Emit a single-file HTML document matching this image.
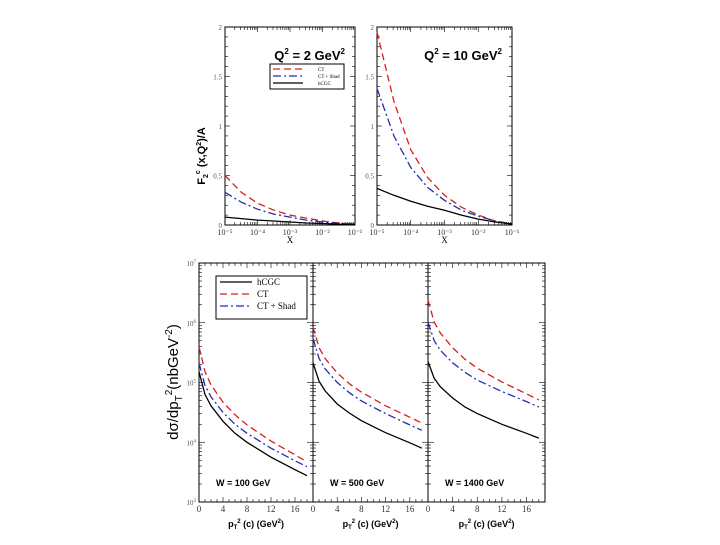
<!DOCTYPE html>
<html><head><meta charset="utf-8"><style>
body{margin:0;background:#fff;width:720px;height:540px;overflow:hidden}
svg text{font-family:"Liberation Serif",serif}
.b{font-family:"Liberation Sans",sans-serif;font-weight:bold}
</style></head><body>
<svg id="c" width="720" height="540" xmlns="http://www.w3.org/2000/svg"></svg>
<script>
// Top panels: x = log10(x), F2c values
const topX = [-5,-4.5,-4,-3.5,-3,-2.5,-2,-1.5,-1];
const q2a_CT = [0.5,0.33,0.22,0.15,0.1,0.07,0.04,0.02,0.01];
const q2a_Shad = [0.33,0.23,0.16,0.11,0.08,0.05,0.03,0.015,0.01];
const q2a_hCGC = [0.08,0.065,0.05,0.04,0.03,0.02,0.015,0.008,0.005];
const q10_CT = [1.95,1.25,0.76,0.48,0.3,0.18,0.1,0.04,0.01];
const q10_Shad = [1.38,0.9,0.58,0.38,0.25,0.15,0.09,0.04,0.01];
const q10_hCGC = [0.37,0.3,0.24,0.19,0.15,0.1,0.06,0.03,0.01];
const topXTicks = ["10⁻⁵","10⁻⁴","10⁻³","10⁻²","10⁻¹"];
const topYTicks = [0,0.5,1,1.5,2];
// Bottom panels: pT^2, log10 of cross section
const ptX = [0,1,2,4,6,8,12,16,18];
const w100_CT = [5.6,5.18,4.96,4.67,4.46,4.29,4.02,3.79,3.67];
const w100_Shad = [5.33,4.95,4.76,4.5,4.3,4.15,3.9,3.69,3.59];
const w100_hCGC = [5.18,4.8,4.61,4.35,4.15,4.0,3.75,3.54,3.44];
const w500_CT = [5.93,5.58,5.4,5.16,4.98,4.84,4.61,4.42,4.32];
const w500_Shad = [5.74,5.4,5.23,5.0,4.83,4.69,4.48,4.29,4.2];
const w500_hCGC = [5.33,5.02,4.86,4.64,4.49,4.36,4.16,3.99,3.9];
const w1400_CT = [6.38,6.01,5.83,5.58,5.39,5.24,5.01,4.81,4.71];
const w1400_Shad = [6.01,5.7,5.54,5.33,5.17,5.04,4.85,4.68,4.59];
const w1400_hCGC = [5.35,5.07,4.93,4.74,4.59,4.48,4.3,4.15,4.07];
const ptTicks = [0,4,8,12,16];
const logTicks = [3,4,5,6,7];

const svg=document.getElementById('c');const NS='http://www.w3.org/2000/svg';
function el(t,a,p){const e=document.createElementNS(NS,t);for(const k in a)e.setAttribute(k,a[k]);(p||svg).appendChild(e);return e;}
function txt(s,x,y,a,p){const e=el('text',Object.assign({x:x,y:y},a||{}),p);e.textContent=s;return e;}
const styles={CT:{stroke:'#d62020','stroke-dasharray':'7,4'},Shad:{stroke:'#2030b0','stroke-dasharray':'8,3,2,3'},hCGC:{stroke:'#000'}};
function line(xs,ys,sx,sy,st,name){
  const d=xs.map((v,i)=>(i?'L':'M')+sx(v).toFixed(1)+','+sy(ys[i]).toFixed(1)).join('');
  const p=el('path',Object.assign({d:d,fill:'none','stroke-width':1.3},styles[st]));
  
  
}
function topPanel(x0,x1,y0,y1,ct,sh,hc,title,id,showY){
  const sx=v=>x0+(v+5)/4*(x1-x0), sy=v=>y1-v/2*(y1-y0);
  const r=el('rect',{x:x0,y:y0,width:x1-x0,height:y1-y0,fill:'none',stroke:'#000','stroke-width':1});
  
  for(let d=-5;d<-1;d++)for(let k=1;k<10;k++){const x=sx(d+Math.log10(k));const L=k==1?5:3;
    el('line',{x1:x,x2:x,y1:y1,y2:y1-L,stroke:'#000','stroke-width':0.6});el('line',{x1:x,x2:x,y1:y0,y2:y0+L,stroke:'#000','stroke-width':0.6});}
  topXTicks.forEach((t,i)=>{const e=txt(t,sx(-5+i),y1+10,{'font-size':8,'text-anchor':'middle',fill:'#333'});});
  for(let v=0;v<=2.001;v+=0.1){const y=sy(v);const L=Math.abs(v*2-Math.round(v*2))<0.01?5:3;
    el('line',{x1:x0,x2:x0+L,y1:y,y2:y,stroke:'#000','stroke-width':0.6});el('line',{x1:x1,x2:x1-L,y1:y,y2:y,stroke:'#000','stroke-width':0.6});}
  topYTicks.forEach(v=>{const e=txt(String(v),x0-3,sy(v)+3,{'font-size':7,'text-anchor':'end',fill:'#555'});});
  const xl=txt('X',(x0+x1)/2,y1+18,{'font-size':9,'text-anchor':'middle'});
  line(topX,ct,sx,sy,'CT',id+'-ct-line');line(topX,sh,sx,sy,'Shad',id+'-shad-line');line(topX,hc,sx,sy,'hCGC',id+'-hcgc-line');
  const t=el('text',{x:x1-10,y:y0+33,'font-size':13,'text-anchor':'end',class:'b'});
  t.innerHTML=title;
}
topPanel(225,355,27,225,q2a_CT,q2a_Shad,q2a_hCGC,'Q<tspan dy="-6" font-size="8">2</tspan><tspan dy="6"> = 2 GeV</tspan><tspan dy="-6" font-size="8">2</tspan>','q2-2-panel');
topPanel(377,512,27,225,q10_CT,q10_Shad,q10_hCGC,'Q<tspan dy="-6" font-size="8">2</tspan><tspan dy="6"> = 10 GeV</tspan><tspan dy="-6" font-size="8">2</tspan>','q2-10-panel');
// top legend
const lg=el('g',{});
el('rect',{x:270,y:64,width:74,height:25,fill:'#fff',stroke:'#000','stroke-width':1},lg);
[['CT','CT',71],['Shad','CT + Shad',78],['hCGC','hCGC',85]].forEach(([k,l,y])=>{el('line',Object.assign({x1:273,x2:303,y1:y-2,y2:y-2,'stroke-width':1.2},styles[k]),lg);txt(l,318,y,{'font-size':5},lg);});
const yl1=el('text',{transform:'translate(205,156) rotate(-90)','text-anchor':'middle','font-size':11,class:'b'});
yl1.innerHTML='F<tspan dy="3" font-size="7">2</tspan><tspan dy="-8" font-size="7">c</tspan><tspan dy="5"> (x,Q</tspan><tspan dy="-4" font-size="7">2</tspan><tspan dy="4">)/A</tspan>';


// bottom panels
const by0=263,by1=502;
function botPanel(x0,x1,ct,sh,hc,label,id,first){
  const sx=v=>x0+v/19*(x1-x0), sy=v=>by1-(v-3)/4*(by1-by0);
  const r=el('rect',{x:x0,y:by0,width:x1-x0,height:by1-by0,fill:'none',stroke:'#000','stroke-width':1});
  
  for(let v=0;v<=19;v++){const x=sx(v);const L=v%4==0?5:3;el('line',{x1:x,x2:x,y1:by1,y2:by1-L,stroke:'#000','stroke-width':0.6});el('line',{x1:x,x2:x,y1:by0,y2:by0+L,stroke:'#000','stroke-width':0.6});}
  for(let d=3;d<7;d++)for(let k=1;k<10;k++){const y=sy(d+Math.log10(k));const L=k==1?6:3;
    el('line',{x1:x0,x2:x0+L,y1:y,y2:y,stroke:'#000','stroke-width':0.6});el('line',{x1:x1,x2:x1-L,y1:y,y2:y,stroke:'#000','stroke-width':0.6});}
  ptTicks.forEach(v=>{const e=txt(String(v),sx(v),by1+10,{'font-size':9,'text-anchor':'middle',fill:'#333'});});
  if(first)logTicks.forEach(v=>{const e=txt('10',x0-3,sy(v)+3,{'font-size':7,'text-anchor':'end',fill:'#555'});e.innerHTML='10<tspan dy="-3" font-size="5">'+v+'</tspan>';});
  const xt=el('text',{x:(x0+x1)/2,y:by1+25,'font-size':9,'text-anchor':'middle',class:'b'});
  xt.innerHTML='p<tspan dy="2" font-size="6">T</tspan><tspan dy="-6" font-size="6">2</tspan><tspan dy="4"> (c) (GeV</tspan><tspan dy="-4" font-size="6">2</tspan><tspan dy="4">)</tspan>';
  
  line(ptX,ct,sx,sy,'CT',id+'-ct-line');line(ptX,sh,sx,sy,'Shad',id+'-shad-line');line(ptX,hc,sx,sy,'hCGC',id+'-hcgc-line');
  const t=txt(label,x0+17,by1-16,{'font-size':9,class:'b'});
}
botPanel(199,313,w100_CT,w100_Shad,w100_hCGC,'W = 100 GeV','w100-panel',true);
botPanel(313,428,w500_CT,w500_Shad,w500_hCGC,'W = 500 GeV','w500-panel',false);
botPanel(428,545,w1400_CT,w1400_Shad,w1400_hCGC,'W = 1400 GeV','w1400-panel',false);
const lg2=el('g',{});
el('rect',{x:216,y:276,width:91,height:43,fill:'#fff',stroke:'#000','stroke-width':1},lg2);
[['hCGC','hCGC',285],['CT','CT',297],['Shad','CT + Shad',309]].forEach(([k,l,y])=>{el('line',Object.assign({x1:220,x2:252,y1:y-3,y2:y-3,'stroke-width':1.3},styles[k]),lg2);txt(l,257,y,{'font-size':9},lg2);});
const yl2=el('text',{transform:'translate(178,382) rotate(-90)','text-anchor':'middle','font-size':15,style:'font-family:Liberation Sans,sans-serif'});
yl2.innerHTML='dσ/dp<tspan dy="4" font-size="10">T</tspan><tspan dy="-10" font-size="10">2</tspan><tspan dy="6">(nbGeV</tspan><tspan dy="-6" font-size="10">-2</tspan><tspan dy="6">)</tspan>';

</script>
</body></html>
